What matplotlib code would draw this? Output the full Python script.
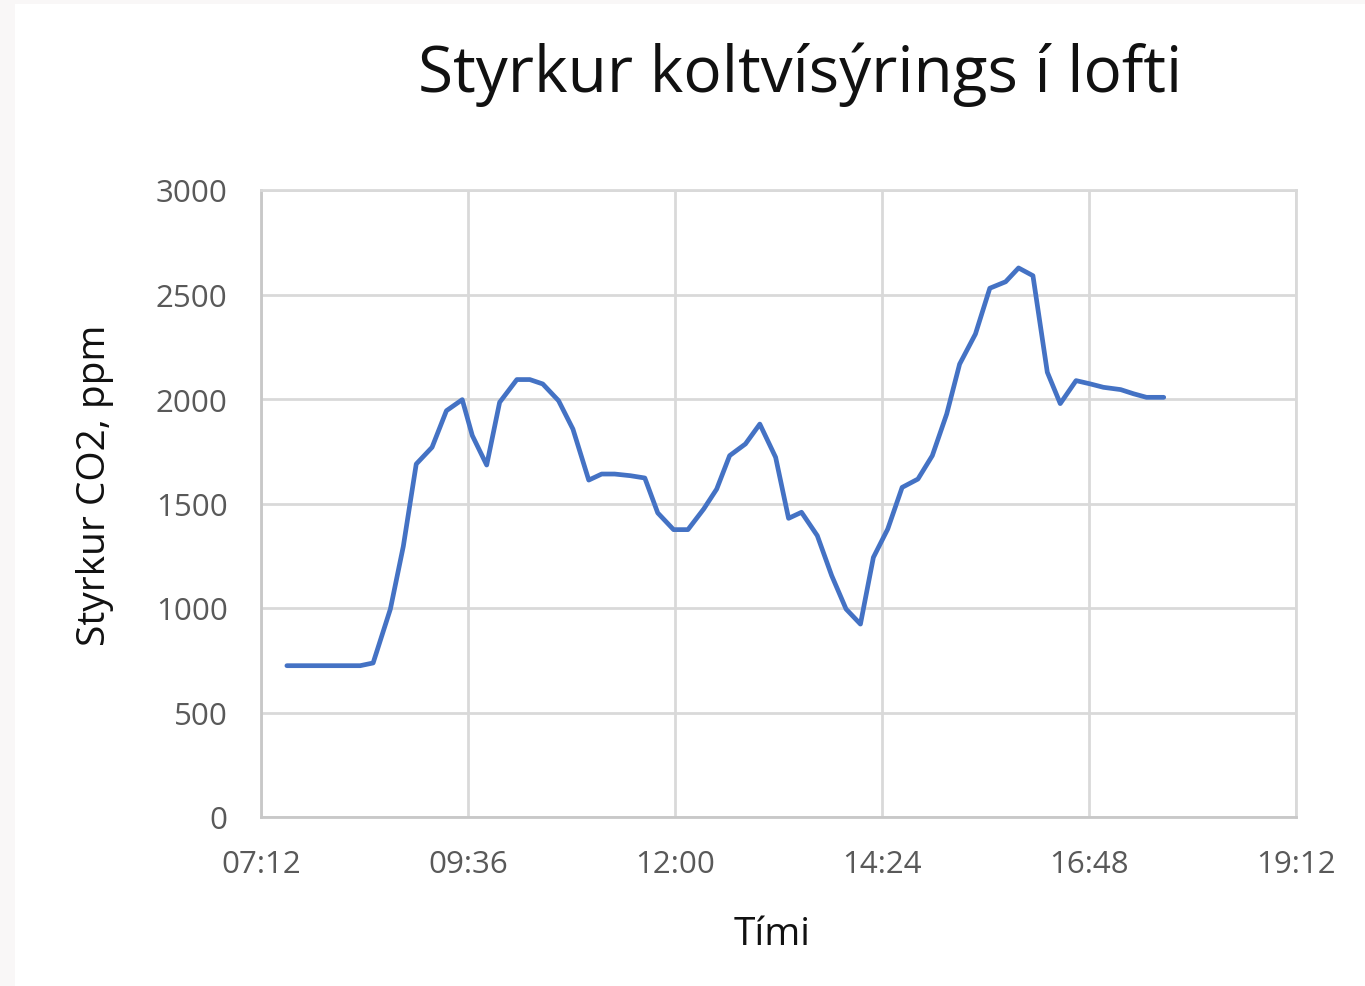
import numpy as np
import pandas as pd
import matplotlib
matplotlib.use("Agg")
import matplotlib.pyplot as plt
import matplotlib.dates as mdates
from matplotlib.patches import Rectangle

times = ["07:30", "07:40", "07:50", "08:00", "08:10", "08:21", "08:30", "08:42",
         "08:51", "09:00", "09:11", "09:21", "09:32", "09:39", "09:49", "09:58",
         "10:10", "10:19", "10:28", "10:39", "10:49", "11:00", "11:09", "11:18",
         "11:29", "11:39", "11:48", "11:59", "12:09", "12:20", "12:29", "12:38",
         "12:49", "12:59", "13:10", "13:19", "13:28", "13:39", "13:49", "13:59",
         "14:09", "14:18", "14:28", "14:38", "14:49", "14:59", "15:09", "15:18",
         "15:29", "15:39", "15:50", "15:59", "16:09", "16:19", "16:28", "16:39",
         "16:49", "16:58", "17:10", "17:19", "17:28", "17:40"]
co2 = [724, 724, 724, 724, 724, 724, 737, 995,
       1295, 1689, 1769, 1944, 1997, 1825, 1684, 1984,
       2093, 2093, 2072, 1992, 1856, 1612, 1641, 1641,
       1633, 1622, 1455, 1375, 1375, 1474, 1569, 1729,
       1785, 1880, 1721, 1429, 1458, 1346, 1155, 995,
       923, 1242, 1378, 1577, 1617, 1729, 1928, 2167,
       2311, 2530, 2561, 2627, 2590, 2128, 1978, 2088,
       2072, 2056, 2045, 2025, 2008, 2008]

x_ticks = ["07:12", "09:36", "12:00", "14:24", "16:48", "19:12"]
y_ticks = [0, 500, 1000, 1500, 2000, 2500, 3000]

day = "2020-01-01 "
t = pd.to_datetime([day + s for s in times])
xt = pd.to_datetime([day + s for s in x_ticks])

plt.rcParams["font.family"] = ["Open Sans", "DejaVu Sans"]

fig = plt.figure(figsize=(13.65, 9.87), dpi=100)
fig.patch.set_facecolor("#f9f7f7")
# white chart area inside the thin grey page border
fig.add_artist(Rectangle((15 / 1365, 0), 1, 1 - 5 / 987, transform=fig.transFigure,
                         facecolor="white", edgecolor="none", zorder=-5))

ax = fig.add_axes([261 / 1365, 1 - 818 / 987, 1035 / 1365, 627 / 987])
ax.set_facecolor("white")
ax.plot(t, co2, color="#4472C4", linewidth=3.4, solid_joinstyle="round",
        solid_capstyle="round", zorder=3)

ax.set_xlim(xt[0], xt[-1])
ax.set_ylim(0, 3000)
ax.set_xticks(xt)
ax.xaxis.set_major_formatter(mdates.DateFormatter("%H:%M"))
ax.set_yticks(y_ticks)

ax.grid(True, color="#d9d9d9", linewidth=2)
ax.set_axisbelow(True)
for s in ax.spines.values():
    s.set_color("#d9d9d9")
    s.set_linewidth(2)
ax.spines["left"].set_color("#c8c8c8")
ax.spines["bottom"].set_color("#c8c8c8")

ax.tick_params(length=0, labelsize=22.5, labelcolor="#595959")
ax.tick_params(axis="y", pad=24)
ax.tick_params(axis="x", pad=23)

ax.set_ylabel("Styrkur CO2, ppm", fontsize=28, color="#111111", va="center")
ax.yaxis.set_label_coords((95 - 261) / 1035, (818 - 485) / 627)
ax.set_xlabel("Tími", fontsize=28, color="#111111", va="center")
ax.xaxis.set_label_coords((772 - 261) / 1035, (818 - 935) / 627)

fig.text(800 / 1365, 1 - 75 / 987, "Styrkur koltvísýrings í lofti", fontsize=46,
         ha="center", va="center", color="#111111")

fig.savefig("out.png", dpi=100, facecolor=fig.get_facecolor())
